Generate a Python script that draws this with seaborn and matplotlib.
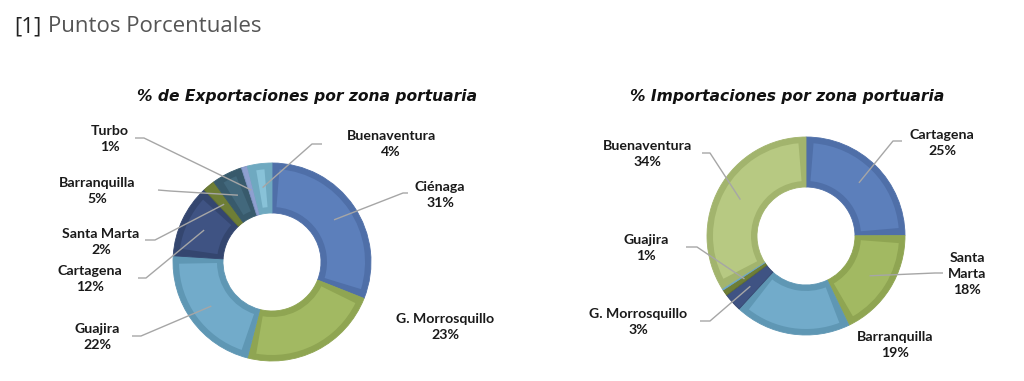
import numpy as np
import matplotlib
matplotlib.use("Agg")
import matplotlib.pyplot as plt
from matplotlib.patches import Wedge
import seaborn as sns

sns.set_theme(style="white")
plt.rcParams['font.family'] = ['Lato', 'DejaVu Sans']

W, H = 1024, 381

# data
export_labels = ["Ciénaga", "G. Morrosquillo", "Guajira", "Cartagena",
                 "Santa Marta", "Barranquilla", "Turbo", "Buenaventura"]
export_values = [31, 23, 22, 12, 2, 5, 1, 4]

import_labels = ["Cartagena", "Santa\nMarta", "Barranquilla", "G. Morrosquillo",
                 "Guajira", "", "Buenaventura"]
import_values = [25, 18, 19, 3, 1, 0.3, 34]

# colours (fill, bevel edge)
export_colors = ["#5C7FBB", "#A2B962", "#72ABCA", "#3F5383",
                 "#6E7E36", "#42687C", "#8EA0D0", "#88C2D8"]
export_edges = ["#4F6FA8", "#8FA552", "#5F97B4", "#34466F",
                "#606E2E", "#385A6C", "#7F92C2", "#6FA9C0"]
import_colors = ["#5C7FBB", "#A2B962", "#72ABCA", "#3F5383",
                 "#6E7E36", "#6FA8C8", "#B7C982"]
import_edges = ["#4F6FA8", "#8FA552", "#5F97B4", "#34466F",
                "#606E2E", "#6FA8C8", "#A2B46D"]

# layout in pixels (top-left origin): label centre, line start, elbow
export_layout = [
    ((440, 195), (408, 193), (403, 193)),
    ((445, 327), None, None),
    ((97, 337), (132, 336), (141, 336)),
    ((90, 279), (138, 278), (146, 278)),
    ((101, 242), (145, 240), (155, 240)),
    ((97, 191), (158, 190), (170, 191)),
    ((110, 139), (135, 138), (144, 138)),
    ((391, 144), (322, 144), (312, 144)),
]
import_layout = [
    ((942, 143), (902, 141), (893, 141)),
    ((967, 274), (943, 273), (935, 273)),
    ((895, 345), None, None),
    ((638, 322), (700, 321), (710, 321)),
    ((646, 248), (686, 247), (697, 247)),
    (None, None, None),
    ((647, 154), (702, 153), (710, 153)),
]

LINE_C = "#A6A6A6"
RING = 50
BEVEL = 6


def fy(y):
    return H - y


def draw_donut(ax, values, labels, colors, edges, layout, center, radius, title, title_x):
    cx, cy = center
    wedges, _ = ax.pie(values, colors=edges, startangle=90, counterclock=False,
                       radius=radius, center=(cx, fy(cy)),
                       wedgeprops=dict(width=RING, linewidth=0.6))
    for w, ec, fc in zip(wedges, edges, colors):
        w.set_edgecolor(ec)
        # lighter inset face for the bevel look
        d = np.rad2deg(BEVEL / (radius - RING / 2))
        if w.theta2 - w.theta1 > 2.5 * d:
            ax.add_patch(Wedge((cx, fy(cy)), radius - BEVEL, w.theta1 + d, w.theta2 - d,
                               width=RING - 2 * BEVEL, facecolor=fc, edgecolor="none"))
        else:
            w.set_facecolor(fc)
    for w, lab, val, (pos, start, elbow) in zip(wedges, labels, values, layout):
        if pos is None:
            continue
        ax.text(pos[0], fy(pos[1]), "%s\n%d%%" % (lab, round(val)), ha="center", va="center",
                fontsize=10.2, fontweight="bold", color="#1A1A1A", linespacing=1.45)
        if start is None:
            continue
        mid = np.deg2rad((w.theta1 + w.theta2) / 2)
        px, py = cx + 75 * np.cos(mid), fy(cy) + 75 * np.sin(mid)
        ax.plot([start[0], elbow[0], px], [fy(start[1]), fy(elbow[1]), py],
                color=LINE_C, lw=1.0, solid_capstyle="butt", zorder=5)
    ax.text(title_x, fy(96), title, ha="center", va="center", fontsize=11.2,
            fontweight="bold", fontstyle="italic", family="DejaVu Sans", color="#111111")


fig = plt.figure(figsize=(W / 100, H / 100), dpi=100)
ax = fig.add_axes([0, 0, 1, 1])

draw_donut(ax, export_values, export_labels, export_colors, export_edges, export_layout,
           (272, 262), 99, "% de Exportaciones por zona portuaria", 307)
draw_donut(ax, import_values, import_labels, import_colors, import_edges, import_layout,
           (806, 236), 99, "% Importaciones por zona portuaria", 787)

ax.text(14, fy(27), "[1]", ha="left", va="center", fontsize=16, color="#222222",
        family="Open Sans")
ax.text(48, fy(27), "Puntos Porcentuales", ha="left", va="center", fontsize=16,
        color="#555555", family="Open Sans")

ax.set_xlim(0, W)
ax.set_ylim(0, H)
ax.set_aspect("equal")
ax.axis("off")

fig.savefig("out.png", dpi=100, facecolor="white")
plt.close(fig)
